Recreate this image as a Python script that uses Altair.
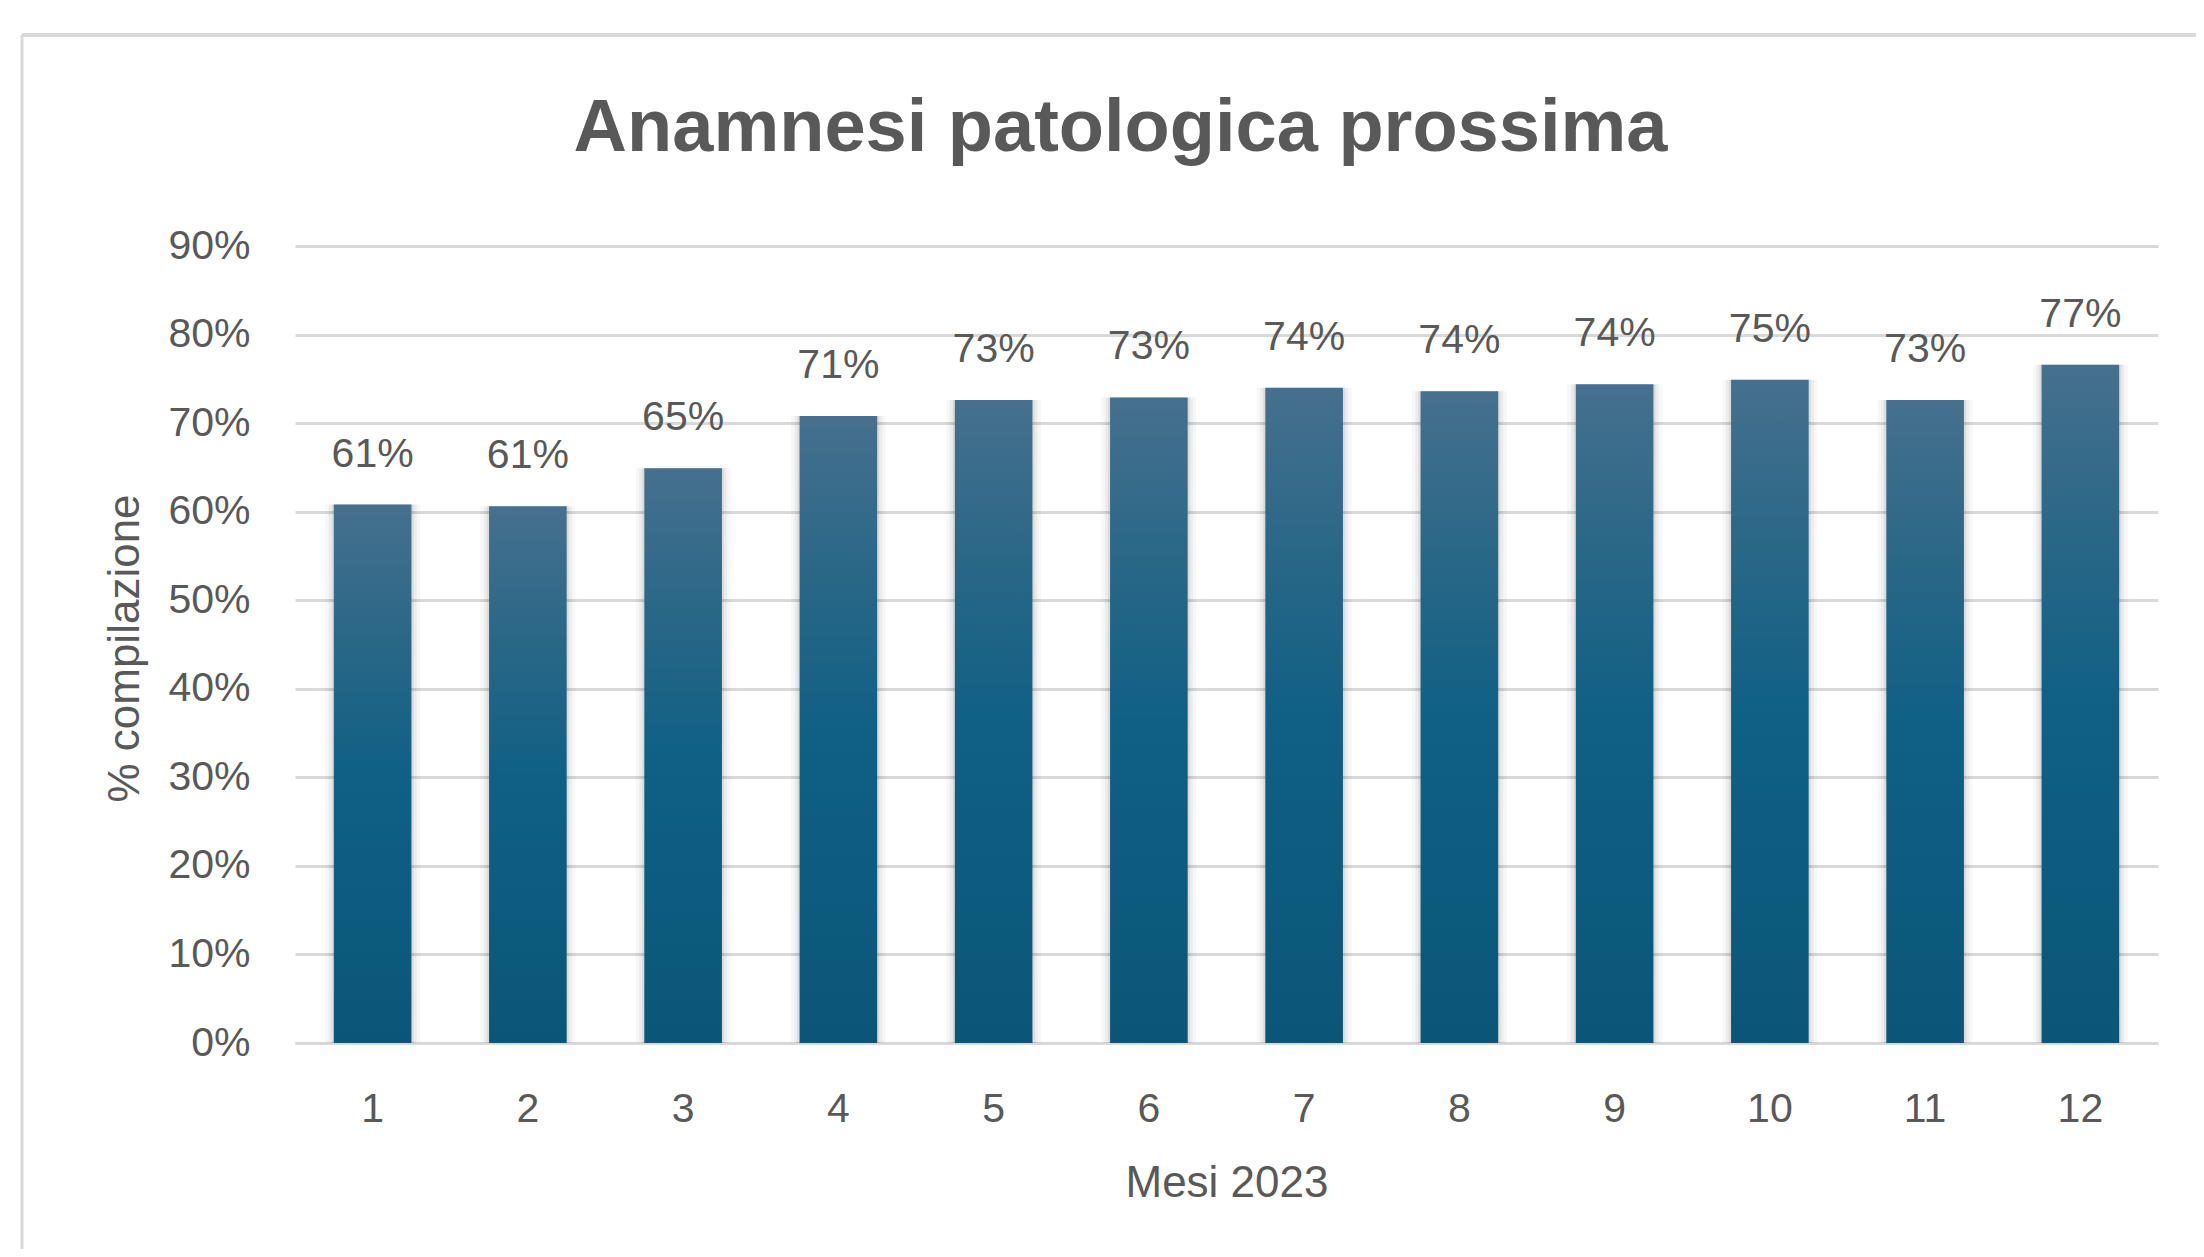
import altair as alt
import pandas as pd

# ---- data ----
months = ["1", "2", "3", "4", "5", "6", "7", "8", "9", "10", "11", "12"]
values = [0.608, 0.606, 0.649, 0.708, 0.726, 0.729, 0.740, 0.736, 0.744, 0.749, 0.726, 0.766]
y_ticks = [0.0, 0.1, 0.2, 0.3, 0.4, 0.5, 0.6, 0.7, 0.8, 0.9]

title_text = "Anamnesi patologica prossima"
x_title = "Mesi 2023"
y_title = "% compilazione"

df = pd.DataFrame({"mese": months, "valore": values})

FONT = "Liberation Sans, Arial, sans-serif"
TXT = "#595959"
GRID = "#D9D9D9"

W, H = 1863, 797

x_enc = alt.X(
    "mese:N",
    sort=months,
    scale=alt.Scale(paddingInner=0.5, paddingOuter=0.25),
    axis=alt.Axis(
        title=x_title,
        labelAngle=0,
        labelFont=FONT,
        labelFontSize=41,
        labelColor=TXT,
        labelPadding=46,
        ticks=False,
        domainColor=GRID,
        domainWidth=3,
        grid=False,
        titleFont=FONT,
        titleFontSize=44,
        titleFontWeight="normal",
        titleColor=TXT,
        titleY=140,
        titleBaseline="middle",
    ),
)

y_enc = alt.Y(
    "valore:Q",
    scale=alt.Scale(domain=[0, 0.9], nice=False),
    axis=alt.Axis(
        values=y_ticks,
        format=".0%",
        title=y_title,
        labelFont=FONT,
        labelFontSize=41,
        labelColor=TXT,
        labelPadding=45,
        ticks=False,
        domain=False,
        grid=True,
        gridColor=GRID,
        gridWidth=3,
        titleFont=FONT,
        titleFontSize=44,
        titleFontWeight="normal",
        titleColor=TXT,
        titleAngle=270,
        titleX=-170,
        titleY=402,
        titleAlign="center",
        titleBaseline="middle",
    ),
)

base = alt.Chart(df)

shadow1 = base.mark_bar(size=95, color="#000000", opacity=0.03).encode(x=x_enc, y=y_enc)
shadow2 = base.mark_bar(size=88, color="#000000", opacity=0.045).encode(x=x_enc, y=y_enc)
shadow3 = base.mark_bar(size=82, color="#000000", opacity=0.07).encode(x=x_enc, y=y_enc)

bars = base.mark_bar(
    color=alt.Gradient(
        gradient="linear",
        x1=0, x2=0, y1=0, y2=1,
        stops=[
            alt.GradientStop(color="#46708E", offset=0),
            alt.GradientStop(color="#2A6787", offset=0.25),
            alt.GradientStop(color="#106085", offset=0.5),
            alt.GradientStop(color="#0A5678", offset=1),
        ],
    )
).encode(x=x_enc, y=y_enc)

labels = base.mark_text(
    baseline="alphabetic", dy=-38, fontSize=41, font=FONT, color=TXT
).encode(x=x_enc, y=y_enc, text=alt.Text("valore:Q", format=".0%"))

frame_df = pd.DataFrame({"k": [0]})
top_border = alt.Chart(frame_df).mark_rule(color=GRID, strokeWidth=4).encode(
    x=alt.value(-273), x2=alt.value(1920), y=alt.value(-211)
)
left_border = alt.Chart(frame_df).mark_rule(color=GRID, strokeWidth=3).encode(
    x=alt.value(-273), y=alt.value(-211), y2=alt.value(1020)
)

chart = (
    alt.layer(top_border, left_border, shadow1, shadow2, shadow3, bars, labels)
    .properties(
        width=W,
        height=H,
        padding={"left": 287, "top": 238, "right": 38, "bottom": 206},
        autosize=alt.AutoSizeParams(type="none"),
        title=alt.Title(
            title_text,
            font=FONT,
            fontSize=74,
            fontWeight="bold",
            color=TXT,
            anchor="middle",
            frame="group",
            dx=-106,
            dy=192,
            offset=0,
            baseline="alphabetic",
        ),
    )
    .configure(background="white")
    .configure_view(strokeWidth=0, stroke="transparent")
)

chart.save("out.html", embed_options={"renderer": "svg", "actions": False})
